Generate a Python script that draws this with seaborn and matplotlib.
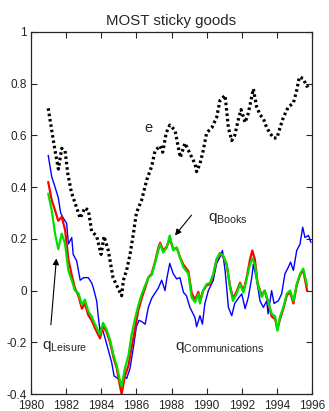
import matplotlib
matplotlib.use("Agg")
import matplotlib.pyplot as plt
import matplotlib.ticker as mticker
import seaborn as sns
import numpy as np

# ---- data ----
e_years = [1980.98, 1981.18, 1981.37, 1981.56, 1981.75, 1981.94, 1982.1, 1982.3, 1982.5, 1982.8,
           1983.07, 1983.27, 1983.45, 1983.74, 1983.99, 1984.16, 1984.4, 1984.67, 1984.95, 1985.16,
           1985.26, 1985.45, 1985.64, 1985.83, 1986.0, 1986.3, 1986.6, 1986.87, 1987.06, 1987.35,
           1987.5, 1987.7, 1987.9, 1988.2, 1988.5, 1988.77, 1989.05, 1989.34, 1989.43, 1989.62,
           1989.8, 1990.0, 1990.3, 1990.57, 1990.76, 1991.05, 1991.24, 1991.43, 1991.6, 1991.8,
           1991.96, 1992.19, 1992.37, 1992.66, 1992.85, 1993.04, 1993.23, 1993.42, 1993.6, 1993.8,
           1994.0, 1994.18, 1994.37, 1994.65, 1994.94, 1995.13, 1995.28, 1995.5, 1995.7, 1995.9]
e_vals = [0.705, 0.62, 0.54, 0.47, 0.55, 0.54, 0.45, 0.38, 0.34, 0.28,
          0.32, 0.31, 0.23, 0.21, 0.14, 0.21, 0.155, 0.05, 0.01, -0.02,
          0.04, 0.08, 0.14, 0.22, 0.30, 0.35, 0.43, 0.48, 0.54, 0.56,
          0.535, 0.61, 0.64, 0.62, 0.515, 0.57, 0.53, 0.49, 0.46, 0.49,
          0.54, 0.61, 0.63, 0.67, 0.735, 0.755, 0.63, 0.58, 0.60, 0.66,
          0.70, 0.65, 0.685, 0.78, 0.71, 0.68, 0.665, 0.63, 0.61, 0.59,
          0.59, 0.63, 0.67, 0.71, 0.725, 0.775, 0.826, 0.82, 0.79, 0.80]

comm_years = [1980.98, 1981.18, 1981.37, 1981.55, 1981.69, 1981.84, 1982.03, 1982.13, 1982.32, 1982.4,
              1982.6, 1982.8, 1983.0, 1983.26, 1983.45, 1983.55, 1983.74, 1983.83, 1983.93, 1984.03,
              1984.2, 1984.4, 1984.6, 1984.73, 1984.95, 1985.16, 1985.3, 1985.45, 1985.64, 1985.83,
              1986.0, 1986.15, 1986.3, 1986.5, 1986.68, 1986.87, 1987.06, 1987.25, 1987.44, 1987.63,
              1987.73, 1987.9, 1988.1, 1988.3, 1988.48, 1988.68, 1988.85, 1989.05, 1989.34, 1989.43,
              1989.62, 1989.76, 1989.9, 1990.1, 1990.38, 1990.57, 1990.76, 1990.9, 1991.05, 1991.24,
              1991.43, 1991.6, 1991.8, 1992.0, 1992.19, 1992.37, 1992.57, 1992.66, 1992.85, 1993.04,
              1993.23, 1993.42, 1993.5, 1993.7, 1993.84, 1994.08, 1994.27, 1994.46, 1994.65, 1994.78,
              1994.94, 1995.13, 1995.32, 1995.47, 1995.6, 1995.8, 1995.94]
comm_vals = [0.523, 0.44, 0.40, 0.36, 0.30, 0.28, 0.26, 0.18, 0.205, 0.14,
             0.115, 0.04, 0.05, 0.05, 0.03, 0.01, -0.04, -0.10, -0.155, -0.14,
             -0.18, -0.23, -0.28, -0.33, -0.34, -0.37, -0.33, -0.34, -0.30, -0.22,
             -0.14, -0.115, -0.12, -0.13, -0.065, -0.03, -0.01, 0.01, 0.04, 0.0,
             0.045, 0.105, 0.065, 0.045, 0.05, -0.007, -0.02, -0.065, -0.105, -0.14,
             -0.097, -0.13, -0.05, 0.0, 0.04, 0.105, 0.13, 0.155, 0.078, -0.065,
             -0.097, -0.05, -0.03, -0.013, -0.07, -0.027, 0.05, 0.103, 0.04, -0.04,
             -0.065, -0.04, -0.09, 0.0, -0.05, -0.04, -0.013, 0.065, 0.09, 0.11,
             0.078, 0.155, 0.18, 0.245, 0.205, 0.213, 0.186]

rg_years = [1980.98, 1981.18, 1981.37, 1981.55, 1981.75, 1981.94, 1982.13, 1982.32, 1982.5, 1982.7,
            1982.9, 1983.07, 1983.26, 1983.45, 1983.64, 1983.93, 1984.1, 1984.3, 1984.5, 1984.7,
            1984.88, 1985.07, 1985.16, 1985.35, 1985.55, 1985.73, 1985.92, 1986.1, 1986.3, 1986.5,
            1986.68, 1986.87, 1987.06, 1987.25, 1987.35, 1987.53, 1987.73, 1987.9, 1988.1, 1988.3,
            1988.48, 1988.68, 1988.96, 1989.15, 1989.34, 1989.53, 1989.62, 1989.8, 1990.0, 1990.2,
            1990.38, 1990.57, 1990.76, 1990.95, 1991.14, 1991.33, 1991.5, 1991.7, 1991.9, 1992.1,
            1992.28, 1992.47, 1992.6, 1992.75, 1992.9, 1993.14, 1993.3, 1993.5, 1993.7, 1993.9,
            1994.03, 1994.18, 1994.37, 1994.56, 1994.75, 1994.94, 1995.13, 1995.32, 1995.5, 1995.72]
leisure_vals = [0.42, 0.35, 0.31, 0.27, 0.285, 0.235, 0.12, 0.06, 0.01, -0.02,
                -0.07, -0.05, -0.095, -0.115, -0.145, -0.185, -0.135, -0.16, -0.20, -0.26,
                -0.30, -0.37, -0.40, -0.33, -0.29, -0.22, -0.15, -0.08, -0.03, 0.01,
                0.05, 0.065, 0.11, 0.165, 0.185, 0.155, 0.17, 0.20, 0.16, 0.165,
                0.13, 0.10, 0.075, -0.01, -0.035, -0.005, -0.04, 0.0, 0.02, 0.025,
                0.06, 0.12, 0.145, 0.13, 0.10, 0.02, -0.03, -0.005, 0.03, 0.0,
                0.05, 0.12, 0.155, 0.12, 0.03, -0.02, 0.0, -0.045, -0.10, -0.11,
                -0.15, -0.11, -0.07, -0.02, -0.005, -0.05, 0.02, 0.06, 0.08, 0.0]
books_vals = [0.375, 0.31, 0.22, 0.16, 0.22, 0.18, 0.077, 0.04, 0.0, -0.01,
              -0.055, -0.035, -0.08, -0.10, -0.13, -0.17, -0.125, -0.15, -0.19, -0.25,
              -0.29, -0.35, -0.37, -0.30, -0.25, -0.17, -0.11, -0.06, -0.015, 0.02,
              0.05, 0.06, 0.105, 0.155, 0.18, 0.147, 0.167, 0.213, 0.155, 0.167,
              0.128, 0.09, 0.065, -0.027, -0.045, -0.013, -0.05, 0.0, 0.025, 0.03,
              0.065, 0.123, 0.143, 0.135, 0.103, 0.013, -0.04, -0.013, 0.025, -0.008,
              0.045, 0.10, 0.125, 0.10, 0.025, -0.025, 0.0, -0.04, -0.09, -0.10,
              -0.155, -0.10, -0.065, -0.013, 0.0, -0.04, 0.025, 0.065, 0.085, 0.02]

x_ticks = [1980, 1982, 1984, 1986, 1988, 1990, 1992, 1994, 1996]
y_ticks = [-0.4, -0.2, 0, 0.2, 0.4, 0.6, 0.8, 1]
title = "MOST sticky goods"

# ---- style ----
sns.set_style("ticks")
plt.rcParams['font.family'] = ['Liberation Sans', 'DejaVu Sans']
plt.rcParams['mathtext.fontset'] = 'custom'
plt.rcParams['mathtext.rm'] = 'Liberation Sans'
plt.rcParams['mathtext.it'] = 'Liberation Sans'
plt.rcParams['axes.unicode_minus'] = False

fig = plt.figure(figsize=(3.29, 4.11), dpi=100)
ax = fig.add_axes([31/329, 17/411, 281/329, 362/411])

sns.lineplot(x=comm_years, y=comm_vals, color='#0000ff', lw=1.0, ax=ax, estimator=None)
sns.lineplot(x=rg_years, y=leisure_vals, color='#ff0000', lw=1.6, ax=ax, estimator=None)
sns.lineplot(x=rg_years, y=books_vals, color='#00e000', lw=1.6, ax=ax, estimator=None)
sns.lineplot(x=e_years, y=e_vals, color='black', lw=2.3, ax=ax, estimator=None)
ax.lines[-1].set_linestyle((0, (0.8, 0.9)))

ax.set_xlim(1980, 1996)
ax.set_ylim(-0.4, 1)
ax.set_xticks(x_ticks)
ax.set_yticks(y_ticks)
ax.yaxis.set_major_formatter(mticker.FuncFormatter(lambda v, p: ('%g' % round(v, 2))))
ax.tick_params(direction='in', top=True, right=True, labelsize=8.5, length=4, width=0.8)
ax.tick_params(axis='x', pad=4)
ax.tick_params(axis='y', pad=3)
for s in ax.spines.values():
    s.set_linewidth(0.9)
ax.set_title(title, fontsize=10.8, pad=5)
ax.set_xlabel('')
ax.set_ylabel('')

ax.text(1986.45, 0.63, 'e', fontsize=10.5, ha='left', va='center')
ax.text(1990.05, 0.28, r'q$_{\mathrm{Books}}$', fontsize=11, ha='left', va='center')
ax.annotate('', xy=(1988.1, 0.205), xytext=(1989.24, 0.30),
            arrowprops=dict(arrowstyle='-|>', color='black', lw=0.8, mutation_scale=9))
ax.text(1980.6, -0.215, r'q$_{\mathrm{Leisure}}$', fontsize=11, ha='left', va='center')
ax.annotate('', xy=(1981.46, 0.135), xytext=(1981.12, -0.143),
            arrowprops=dict(arrowstyle='-|>', color='black', lw=0.8, mutation_scale=9))
ax.text(1988.2, -0.22, r'q$_{\mathrm{Communications}}$', fontsize=11, ha='left', va='center')

fig.savefig('out.png', dpi=100)
